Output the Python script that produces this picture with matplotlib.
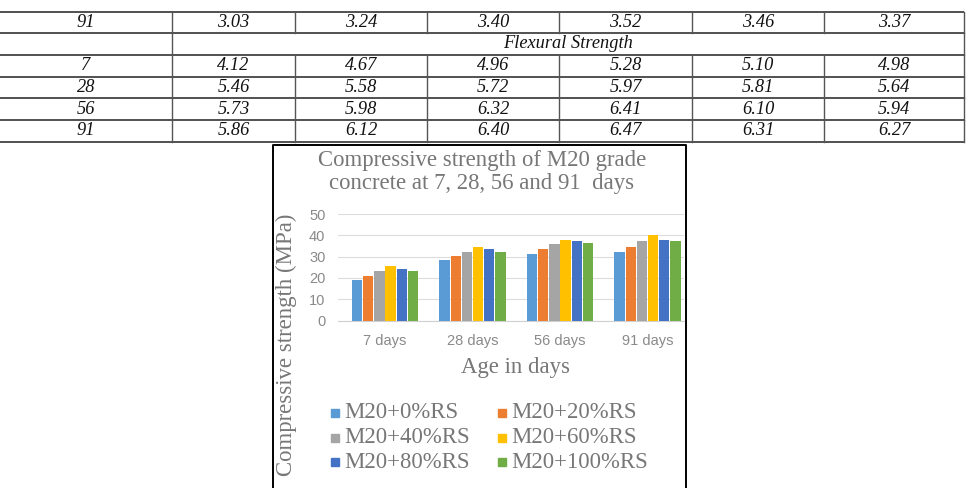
import matplotlib.pyplot as plt
import numpy as np

# table values (top of the page)
tbl_ages_top = ["91"]
tbl_top_vals = [[3.03, 3.24, 3.40, 3.52, 3.46, 3.37]]
tbl_section = "Flexural Strength"
tbl_ages = ["7", "28", "56", "91"]
tbl_flex = [[4.12, 4.67, 4.96, 5.28, 5.10, 4.98],
            [5.46, 5.58, 5.72, 5.97, 5.81, 5.64],
            [5.73, 5.98, 6.32, 6.41, 6.10, 5.94],
            [5.86, 6.12, 6.40, 6.47, 6.31, 6.27]]

# chart values
days = ["7 days", "28 days", "56 days", "91 days"]
mixes = ["M20+0%RS", "M20+20%RS", "M20+40%RS", "M20+60%RS", "M20+80%RS", "M20+100%RS"]
strength = [[18.8, 28.6, 31.1, 32.0],
            [20.9, 30.5, 33.4, 34.5],
            [23.2, 32.3, 36.1, 37.2],
            [25.6, 34.5, 38.0, 40.2],
            [24.3, 33.4, 37.4, 38.0],
            [23.2, 32.0, 36.6, 37.5]]
colors = ["#5B9BD5", "#ED7D31", "#A5A5A5", "#FFC000", "#4472C4", "#70AD47"]

W, H = 970, 488
fig = plt.figure(figsize=(W / 100, H / 100), dpi=100)

# overlay axes in pixel coords for table + box
ov = fig.add_axes([0, 0, 1, 1])
ov.set_xlim(0, W)
ov.set_ylim(H, 0)
ov.axis("off")

col_x = [0, 172, 295, 427, 559, 692, 824, 964]
row_y = [11.7, 33, 54.7, 76.7, 98.3, 120, 141.7]
tfont = dict(family="Liberation Serif", style="italic", size=13.2, color="#111111")

for y in row_y:
    ov.plot([0, col_x[-1]], [y, y], color="#222222", lw=1.1, solid_capstyle="butt")
for i, x in enumerate(col_x):
    if x == 0:
        continue
    for r in range(len(row_y) - 1):
        if r == 1 and 1 < i < len(col_x) - 1:
            continue  # merged section row
        ov.plot([x, x], [row_y[r], row_y[r + 1]], color="#555555", lw=1.0)

centers = [(col_x[k] + col_x[k + 1]) / 2 for k in range(len(col_x) - 1)]
rc = [(row_y[k] + row_y[k + 1]) / 2 for k in range(len(row_y) - 1)]

def table_row(r, age, vals):
    ov.text(centers[0], rc[r], age, ha="center", va="center", **tfont)
    for c, v in enumerate(vals):
        ov.text(centers[c + 1], rc[r], f"{v:.2f}", ha="center", va="center", **tfont)

table_row(0, tbl_ages_top[0], tbl_top_vals[0])
ov.text((col_x[1] + col_x[-1]) / 2, rc[1], tbl_section, ha="center", va="center", **tfont)
for k, (age, vals) in enumerate(zip(tbl_ages, tbl_flex)):
    table_row(k + 2, age, vals)

# chart frame
ov.plot([273.5, 273.5, 686, 686], [490, 144.5, 144.5, 490], color="black", lw=1.4)

gray_txt = "#777777"
serif = dict(family="Liberation Serif", size=16.4, color=gray_txt)
ov.text(482, 160.5, "Compressive strength of M20 grade", ha="center", va="center", **serif)
ov.text(482, 183.5, "concrete at 7, 28, 56 and 91  days", ha="center", va="center", **serif)
ov.text(286, 345, "Compressive strength (MPa)", ha="center", va="center", rotation=90, **serif)
ov.text(516, 367, "Age in days", ha="center", va="center", **serif)

# bar chart
left, right, top, bot = 338, 684, 214, 320.5
ax = fig.add_axes([left / W, 1 - bot / H, (right - left) / W, (bot - top) / H])
ax.patch.set_alpha(0)
x = np.arange(len(days))
bw = 0.128
for i, (vals, col) in enumerate(zip(strength, colors)):
    ax.bar(x + (i - 2.5) * bw, vals, width=bw * 0.92, color=col, zorder=3)
ax.set_xlim(-0.537, 3.417)
ax.set_ylim(0, 50)
ax.set_yticks(range(0, 51, 10))
ax.grid(axis="y", color="#DCDCDC", lw=0.8, zorder=0)
for s in ["top", "right", "left"]:
    ax.spines[s].set_visible(False)
ax.spines["bottom"].set_color("#D0D0D0")
ax.tick_params(length=0, labelsize=10.5, labelcolor="#8a8a8a")
ax.tick_params(axis="y", pad=9)
ax.tick_params(axis="x", pad=10)
ax.set_xticks(x)
ax.set_xticklabels(days, family="Liberation Sans")
for t in ax.get_yticklabels():
    t.set_family("Liberation Sans")

# legend drawn row by row
leg_x = [335, 502]
leg_y = [413, 437.5, 462]
for i, (lab, col) in enumerate(zip(mixes, colors)):
    r, c = divmod(i, 2)
    ov.plot(leg_x[c], leg_y[r], marker="s", ms=5.2, color=col, ls="none")
    ov.text(leg_x[c] + 9, leg_y[r], lab, ha="left", va="center", **serif)

fig.savefig("out.png", dpi=100)
